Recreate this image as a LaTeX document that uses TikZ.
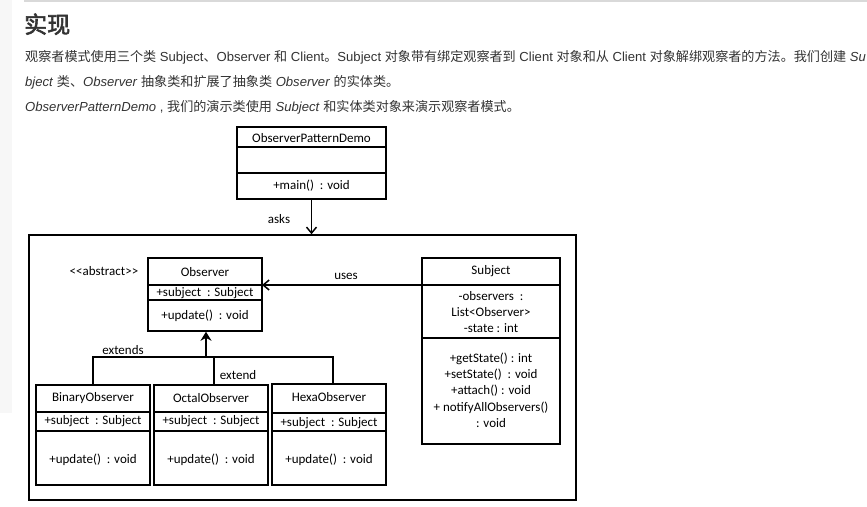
\documentclass[tikz,border=0pt]{standalone}
\usepackage{fontspec}
\setmainfont{Liberation Sans}
\newfontfamily\cjk[AutoFakeBold=2.5]{Noto Sans CJK SC}
\newfontfamily\umlfont{Carlito}
\usetikzlibrary{arrows.meta}
\definecolor{txt}{HTML}{333333}
\begin{document}
\begin{tikzpicture}[x=1pt,y=-1pt,
  box/.style={draw=black,line width=1.5pt,inner sep=0pt},
  divider/.style={line width=1.5pt},
  uml/.style={font=\umlfont\fontsize{13}{15}\selectfont,inner sep=0pt,anchor=center},
  para/.style={font=\fontsize{13.1}{15}\selectfont,text=txt,inner sep=0pt,anchor=base west},
  link/.style={line width=1.5pt,-{Straight Barb[length=6pt,width=10pt,line width=1.5pt]}},
  inherit/.style={line width=1.5pt},
  inheritstem/.style={line width=2.6pt,-{Stealth[length=9pt,width=11pt]}}
]
\useasboundingbox (0,0) rectangle (867,506);
\fill[white] (0,0) rectangle (867,506);
% page decorations
\fill[black!3] (0,0) rectangle (12,413);
\draw[black!15,line width=1.5pt] (24,1) -- (867,1);

% header text
\node[para,font=\cjk\bfseries\fontsize{23}{26}\selectfont] (title) at (24,33) {实现};
\node[para] (l1) at (25,61) {{\cjk 观察者模式使用三个类} Subject{\cjk 、}Observer {\cjk 和} Client{\cjk 。}Subject {\cjk 对象带有绑定观察者到} Client {\cjk 对象和从} Client {\cjk 对象解绑观察者的方法。我们创建} \textit{Su}};
\node[para] (l2) at (25,86) {\textit{bject} {\cjk 类、}\textit{Observer} {\cjk 抽象类和扩展了抽象类} \textit{Observer} {\cjk 的实体类。}};
\node[para] (l3) at (25,111) {\textit{ObserverPatternDemo} , {\cjk 我们的演示类使用} \textit{Subject} {\cjk 和实体类对象来演示观察者模式。}};

% ObserverPatternDemo
\node[box,minimum width=149pt,minimum height=72pt] (opd) at (311.5,163) {};
\draw[divider] (237,147) -- (386,147);
\draw[divider] (237,173) -- (386,173);
\node[uml] (opdname) at (311.5,138) {ObserverPatternDemo};
\node[uml] (opdmain) at (311.5,186) {+main()\ \ : void};

% frame
\node[box,minimum width=547pt,minimum height=265pt] (frame) at (302.5,367.5) {};
\draw[link] (opd.south) -- (opd.south |- frame.north);
\node[uml] (asks) at (279,219) {asks};

% Observer
\node[box,minimum width=114pt,minimum height=73pt] (obs) at (205,294.5) {};
\draw[divider] (148,285) -- (262,285);
\draw[divider] (148,300) -- (262,300);
\node[uml] (obsname) at (205,272) {Observer};
\node[uml] (obsattr) at (205,293) {+subject\ \ : Subject};
\node[uml] (obsop) at (205,316) {+update()\ \ : void};
\node[uml] (abstract) at (104,271) {<<abstract>>};

% Subject
\node[box,minimum width=138pt,minimum height=186pt] (subj) at (491,351) {};
\draw[divider] (422,285) -- (560,285);
\draw[divider] (422,338) -- (560,338);
\node[uml] (subjname) at (491,271.5) {Subject};
\node[uml] (s1) at (491,296) {-observers\ \ :};
\node[uml] (s2) at (491,312) {List<Observer>};
\node[uml] (s3) at (491,328) {-state : int};
\node[uml] (s4) at (491,358.5) {+getState() : int};
\node[uml] (s5) at (491,374.5) {+setState()\ \ : void};
\node[uml] (s6) at (491,391) {+attach() : void};
\node[uml] (s7) at (491,407.5) {+ notifyAllObservers()};
\node[uml] (s8) at (491,423.5) {: void};

\coordinate (usesS) at (422,285);
\coordinate (usesO) at (262,285);
\draw[link] (usesS) -- (usesO);
\node[uml] (uses) at (346,276) {uses};

% concrete observers
\node[box,minimum width=114pt,minimum height=100pt] (bin) at (93,435) {};
\draw[divider] (36,412) -- (150,412);
\draw[divider] (36,431) -- (150,431);
\node[uml] (binname) at (93,398.5) {BinaryObserver};
\node[uml] (binattr) at (93,421.5) {+subject\ \ : Subject};
\node[uml] (binop) at (93,459.5) {+update()\ \ : void};

\node[box,minimum width=114pt,minimum height=100pt] (oct) at (211,435) {};
\draw[divider] (154,412) -- (268,412);
\draw[divider] (154,431) -- (268,431);
\node[uml] (octname) at (211,398.5) {OctalObserver};
\node[uml] (octattr) at (211,421.5) {+subject\ \ : Subject};
\node[uml] (octop) at (211,459.5) {+update()\ \ : void};

\node[box,minimum width=114pt,minimum height=101pt] (hex) at (329,434.5) {};
\draw[divider] (272,413) -- (386,413);
\draw[divider] (272,431) -- (386,431);
\node[uml] (hexname) at (329,397) {HexaObserver};
\node[uml] (hexattr) at (329,423) {+subject\ \ : Subject};
\node[uml] (hexop) at (329,459.5) {+update()\ \ : void};

% inheritance
\coordinate (bus) at (206,357);
\coordinate (busL) at (93,357);
\coordinate (busM) at (214,357);
\coordinate (busR) at (333,357);
\draw[inheritstem] (bus) -- (bus |- obs.south);
\draw[inherit] (bin.north -| busL) -- (busL) -- (busR) -- (hex.north -| busR);
\draw[inherit] (busM) -- (oct.north -| busM);
\node[uml] (extends) at (123,350) {extends};
\node[uml] (extend) at (238,375) {extend};
\end{tikzpicture}
\end{document}
